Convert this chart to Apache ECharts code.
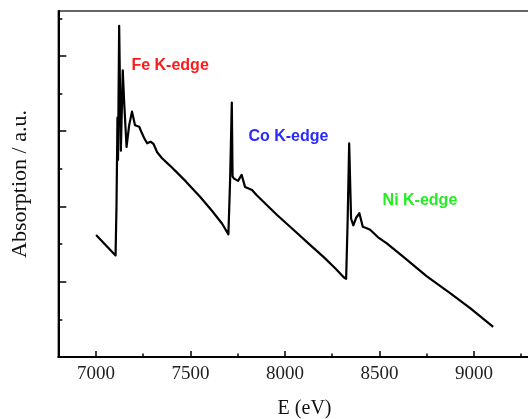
<!DOCTYPE html>
<html>
<head>
<meta charset="utf-8">
<script src="https://cdn.jsdelivr.net/npm/echarts@6/dist/echarts.min.js"></script>
<style>
  html, body { margin: 0; padding: 0; background: #fff; }
  #main { width: 528px; height: 419px; }
</style>
</head>
<body>
<div id="main"></div>
<script>
// photon energy (eV) and absorption (a.u.)
const energy = [
  7000, 7103, 7108, 7113, 7116, 7122, 7131, 7141, 7148, 7161,
  7175, 7190, 7206, 7228, 7238, 7254, 7270, 7288, 7304, 7323,
  7349, 7392, 7476, 7550, 7614, 7667, 7700, 7709, 7718, 7722,
  7730, 7738, 7751, 7770, 7788, 7807, 7825, 7850, 7903, 7956,
  8044, 8132, 8203, 8265, 8310, 8323, 8331, 8339, 8349, 8361,
  8376, 8393, 8411, 8432, 8450, 8492, 8538, 8626, 8750, 8873,
  8979, 9101
];
const absorption = [
  1.62, 1.35, 2.02, 3.18, 2.62, 4.40, 2.74, 3.81, 3.41, 2.79,
  3.08, 3.26, 3.08, 3.06, 3.00, 2.91, 2.84, 2.86, 2.83, 2.72,
  2.64, 2.54, 2.33, 2.13, 1.94, 1.77, 1.63, 2.35, 3.38, 2.40,
  2.37, 2.39, 2.34, 2.42, 2.26, 2.24, 2.22, 2.15, 2.02, 1.89,
  1.69, 1.49, 1.33, 1.18, 1.06, 1.04, 1.82, 2.84, 1.84, 1.75,
  1.85, 1.91, 1.73, 1.71, 1.69, 1.59, 1.51, 1.33, 1.07, 0.85,
  0.65, 0.40
];
const edgeNames = ["Fe K-edge", "Co K-edge", "Ni K-edge"];

const serif = "'Liberation Serif', 'DejaVu Serif', serif";
const chart = echarts.init(document.getElementById("main"), null, { renderer: "canvas" });

const hiddenX = (gridIndex) => ({ gridIndex, type: "value", show: false, min: 0, max: 1 });
const hiddenY = (gridIndex) => ({ gridIndex, type: "value", show: false, min: 0, max: 1 });

const option = {
  backgroundColor: "#fff",
  animation: false,
  grid: [
    // main plot area, runs a little past the right edge like the scan
    { left: 58.3, top: 11, right: -2.8, bottom: 62, show: true, borderColor: "#333", borderWidth: 1.5, outerBoundsMode: "none" },
    // x major ticks 7000..9000
    { left: 96, width: 378, top: 11, bottom: 62, outerBoundsMode: "none" },
    // x minor ticks 7000..9250
    { left: 96, width: 425.2, top: 11, bottom: 62, outerBoundsMode: "none" },
    // y major ticks 0..4
    { left: 58.3, width: 20, bottom: 62, height: 301.04, outerBoundsMode: "none" },
    // y minor ticks 0..4.5
    { left: 58.3, width: 20, bottom: 62, height: 338.67, outerBoundsMode: "none" }
  ],
  xAxis: [
    {
      gridIndex: 0,
      type: "value",
      min: 6800,
      max: 9300,
      name: "E (eV)",
      nameLocation: "middle",
      nameGap: 42,
      nameTextStyle: { fontFamily: serif, fontSize: 20, color: "#111", padding: [0, 0, 0, 20] },
      axisLine: { lineStyle: { color: "#000", width: 2 } },
      axisTick: { show: false },
      axisLabel: { show: false },
      splitLine: { show: false }
    },
    {
      gridIndex: 1,
      type: "value",
      min: 7000,
      max: 9000,
      interval: 500,
      axisLine: { show: false },
      axisTick: { inside: true, length: 6, lineStyle: { color: "#000", width: 1.5 } },
      axisLabel: { fontFamily: serif, fontSize: 19, color: "#222", margin: 8, formatter: (v) => String(v) },
      splitLine: { show: false }
    },
    {
      gridIndex: 2,
      type: "value",
      min: 7000,
      max: 9250,
      interval: 250,
      axisLine: { show: false },
      axisTick: { inside: true, length: 3.5, lineStyle: { color: "#000", width: 1.5 } },
      axisLabel: { show: false },
      splitLine: { show: false }
    },
    hiddenX(3),
    hiddenX(4)
  ],
  yAxis: [
    {
      gridIndex: 0,
      type: "value",
      min: 0,
      max: 4.597,
      name: "Absorption / a.u.",
      nameLocation: "middle",
      nameGap: 27,
      nameTextStyle: { fontFamily: serif, fontSize: 22, color: "#111" },
      axisLine: { lineStyle: { color: "#000", width: 2 } },
      axisTick: { show: false },
      axisLabel: { show: false },
      splitLine: { show: false }
    },
    hiddenY(1),
    hiddenY(2),
    {
      gridIndex: 3,
      type: "value",
      min: 0,
      max: 4,
      interval: 1,
      axisLine: { show: false },
      axisTick: { inside: true, length: 8, lineStyle: { color: "#000", width: 1.5 } },
      axisLabel: { show: false },
      splitLine: { show: false }
    },
    {
      gridIndex: 4,
      type: "value",
      min: 0,
      max: 4.5,
      interval: 0.5,
      axisLine: { show: false },
      axisTick: { inside: true, length: 4, lineStyle: { color: "#000", width: 1.5 } },
      axisLabel: { show: false },
      splitLine: { show: false }
    }
  ],
  series: [
    {
      type: "line",
      xAxisIndex: 0,
      yAxisIndex: 0,
      data: energy.map((e, i) => [e, absorption[i]]),
      showSymbol: false,
      lineStyle: { color: "#000", width: 2.2, join: "round" },
      markPoint: {
        symbolSize: 0,
        silent: true,
        label: {
          show: true,
          position: [0, 0],
          align: "left",
          verticalAlign: "middle",
          fontFamily: "'Liberation Sans', Arial, sans-serif",
          fontWeight: "bold",
          fontSize: 16,
          formatter: (p) => p.name
        },
        data: [
          { name: edgeNames[0], coord: [7187, 3.87], label: { color: "#ff1a1a" } },
          { name: edgeNames[1], coord: [7806, 2.93], label: { color: "#2a2aff" } },
          { name: edgeNames[2], coord: [8516, 2.08], label: { color: "#22ee22" } }
        ]
      }
    }
  ]
};

chart.setOption(option);
</script>
</body>
</html>
